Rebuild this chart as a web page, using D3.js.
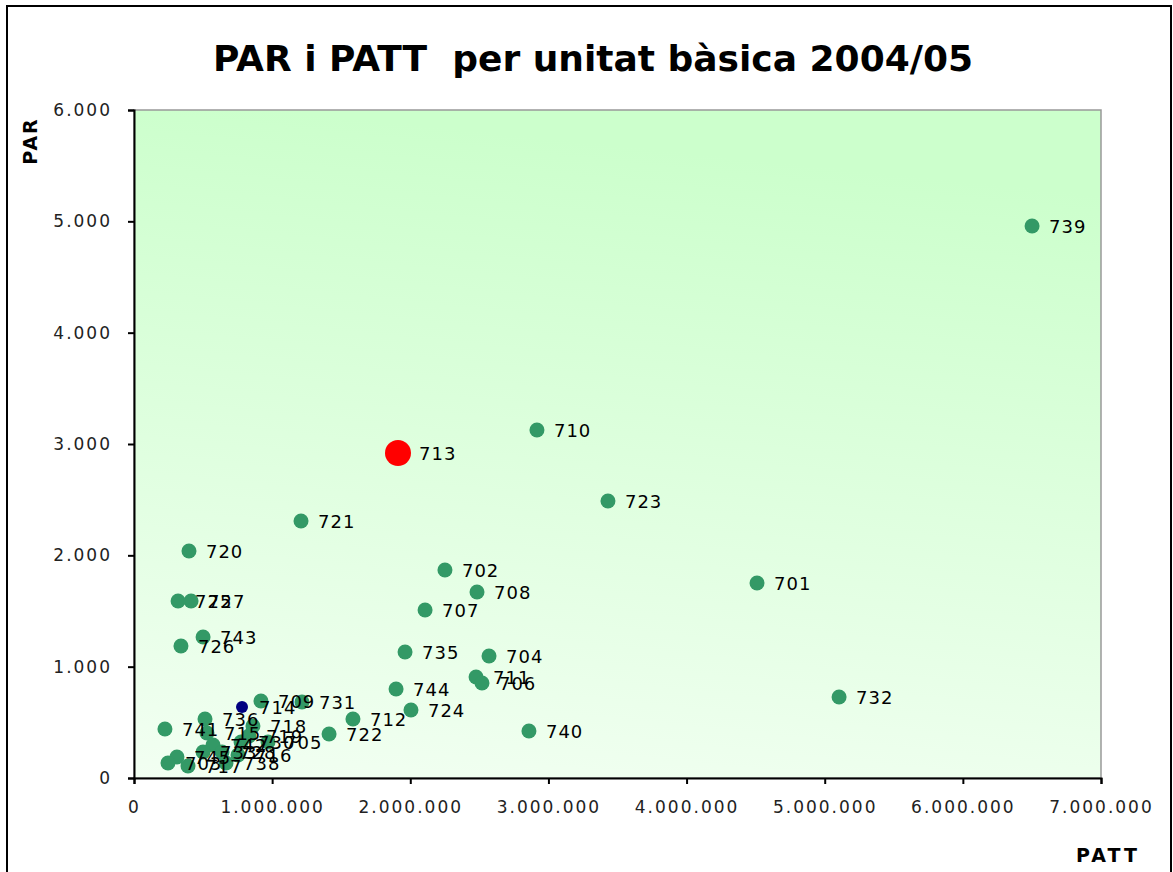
<!DOCTYPE html>
<html>
<head>
<meta charset="utf-8">
<script src="https://cdn.jsdelivr.net/npm/d3@7"></script>
<style>
  body { margin: 0; background: #fff; }
  text { font-family: "DejaVu Sans", Verdana, sans-serif; }
</style>
</head>
<body>
<div id="chart"></div>
<script>
'use strict';

// unitats bàsiques: codi, PATT, PAR
const codes = ['739', '710', '723', '721', '720', '702', '701', '708', '707', '725', '727', '743', '726',
  '735', '704', '711', '706', '744', '732', '709', '731', '724', '712', '722', '740', '741',
  '736', '715', '742', '733', '728', '745', '703', '717', '730', '719', '718', '716', '705', '738'];
const patt = [6501000, 2917000, 3431000, 1209000, 398000, 2251000, 4510000, 2483000, 2107000, 319000, 413000, 500000, 340000,
  1962000, 2570000, 2476000, 2519000, 1897000, 5104000, 919000, 1216000, 2005000, 1585000, 1412000, 2859000, 224000,
  514000, 528000, 572000, 500000, 637000, 311000, 246000, 391000, 775000, 832000, 861000, 753000, 970000, 666000];
const par = [4958, 3126, 2488, 2308, 2039, 1868, 1751, 1671, 1509, 1590, 1590, 1266, 1186,
  1132, 1096, 907, 853, 799, 728, 692, 683, 611, 530, 395, 422, 440,
  530, 404, 296, 234, 234, 189, 135, 108, 323, 377, 467, 207, 323, 135];

// unitat destacada (vermell) i mitjana (blau)
const highlight = { code: '713', patt: 1911000, par: 2919 };
const average = { code: '714', patt: 782000, par: 638 };

const xTicks = [0, 1000000, 2000000, 3000000, 4000000, 5000000, 6000000, 7000000];
const yTicks = [0, 1000, 2000, 3000, 4000, 5000, 6000];

const width = 1173, height = 872;
const margin = { top: 110, right: 72, bottom: 94, left: 134 };

const svg = d3.select('#chart').append('svg')
  .attr('width', width)
  .attr('height', height);

// marc exterior
svg.append('rect')
  .attr('x', 7).attr('y', 6)
  .attr('width', 1164).attr('height', 880)
  .attr('fill', '#fff')
  .attr('stroke', '#000')
  .attr('stroke-width', 2);

const defs = svg.append('defs');
const grad = defs.append('linearGradient')
  .attr('id', 'bg')
  .attr('x1', '0.15').attr('y1', '0')
  .attr('x2', '0').attr('y2', '1');
grad.append('stop').attr('offset', '0%').attr('stop-color', '#ccffcc');
grad.append('stop').attr('offset', '100%').attr('stop-color', '#f2fff2');

const x = d3.scaleLinear()
  .domain([0, 7000000])
  .range([margin.left, width - margin.right]);

const y = d3.scaleLinear()
  .domain([0, 6000])
  .range([height - margin.bottom, margin.top]);

// fons del gràfic
svg.append('rect')
  .attr('x', x(0)).attr('y', y(6000))
  .attr('width', x(7000000) - x(0))
  .attr('height', y(0) - y(6000))
  .attr('fill', 'url(#bg)')
  .attr('stroke', '#999')
  .attr('stroke-width', 1.5);

const fmt = d3.formatLocale({ decimal: ',', thousands: '.', grouping: [3], currency: ['', '€'] }).format(',');

const xAxis = svg.append('g')
  .attr('transform', 'translate(0,' + y(0) + ')')
  .call(d3.axisBottom(x).tickValues(xTicks).tickFormat(fmt).tickSize(6).tickPadding(17));

const yAxis = svg.append('g')
  .attr('transform', 'translate(' + x(0) + ',0)')
  .call(d3.axisLeft(y).tickValues(yTicks).tickFormat(fmt).tickSize(6).tickPadding(16));

[xAxis, yAxis].forEach(g => {
  g.select('.domain').attr('stroke', '#000').attr('stroke-width', 2);
  g.selectAll('.tick line').attr('stroke', '#000').attr('stroke-width', 2);
  g.selectAll('.tick text')
    .attr('fill', '#222')
    .style('font-size', '17px')
    .style('letter-spacing', '2px')
    .style('font-family', '"DejaVu Sans", Verdana, sans-serif');
});

const points = codes.map((c, i) => ({ code: c, patt: patt[i], par: par[i] }));

const dots = svg.append('g');
dots.selectAll('circle.pt')
  .data(points)
  .join('circle')
  .attr('class', 'pt')
  .attr('cx', d => x(d.patt))
  .attr('cy', d => y(d.par))
  .attr('r', 7.5)
  .attr('fill', '#339966');

dots.append('circle')
  .attr('cx', x(average.patt))
  .attr('cy', y(average.par))
  .attr('r', 6)
  .attr('fill', '#000080');

dots.append('circle')
  .attr('cx', x(highlight.patt))
  .attr('cy', y(highlight.par))
  .attr('r', 13)
  .attr('fill', '#ff0000');

const labels = svg.append('g')
  .style('font-size', '18px')
  .style('letter-spacing', '1px')
  .attr('fill', '#000');

labels.selectAll('text.lb')
  .data(points.concat([average]))
  .join('text')
  .attr('class', 'lb')
  .attr('x', d => x(d.patt) + 17)
  .attr('y', d => y(d.par) + 7)
  .text(d => d.code);

labels.append('text')
  .attr('x', x(highlight.patt) + 21)
  .attr('y', y(highlight.par) + 7)
  .text(highlight.code);

// títols
svg.append('text')
  .attr('x', 593)
  .attr('y', 71)
  .attr('text-anchor', 'middle')
  .style('font-size', '36px')
  .style('font-weight', 'bold')
  .style('white-space', 'pre')
  .attr('xml:space', 'preserve')
  .text('PAR i PATT  per unitat bàsica 2004/05');

svg.append('text')
  .attr('transform', 'translate(37,141) rotate(-90)')
  .attr('text-anchor', 'middle')
  .style('font-size', '19px')
  .style('font-weight', 'bold')
  .style('letter-spacing', '2px')
  .text('PAR');

svg.append('text')
  .attr('x', 1108)
  .attr('y', 862)
  .attr('text-anchor', 'middle')
  .style('font-size', '19px')
  .style('font-weight', 'bold')
  .style('letter-spacing', '3px')
  .text('PATT');
</script>
</body>
</html>
